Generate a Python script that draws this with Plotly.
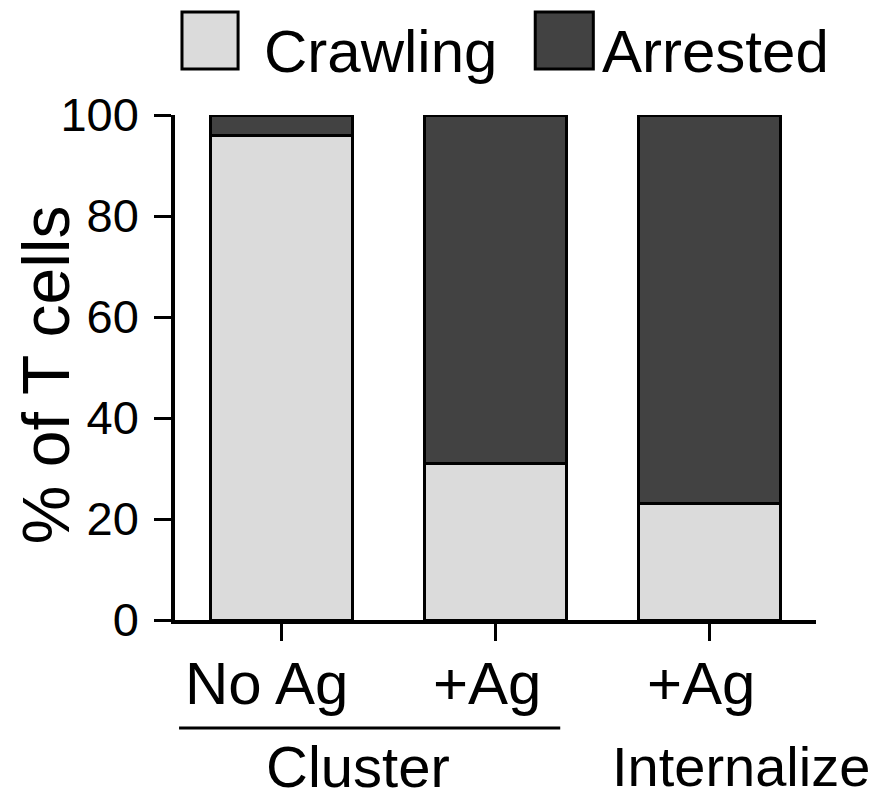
import plotly.graph_objects as go

# Percentage of T cells in each motility state per condition
conditions = ["No Ag", "+Ag", "+Ag (internalize)"]
crawling = [96, 31, 23]
arrested = [4, 69, 77]

group_labels = ["No Ag", "+Ag", "+Ag"]
y_ticks = [0, 20, 40, 60, 80, 100]

LIGHT = "#dbdbdb"
DARK = "#424242"
FONT = "Liberation Sans, Arial, sans-serif"

x_pos = list(range(len(conditions)))

fig = go.Figure()
fig.add_trace(go.Bar(
    x=x_pos, y=crawling, name="Crawling", width=0.665,
    marker=dict(color=LIGHT, line=dict(color="black", width=3)),
    showlegend=False,
))
fig.add_trace(go.Bar(
    x=x_pos, y=arrested, name="Arrested", width=0.665,
    marker=dict(color=DARK, line=dict(color="black", width=3)),
    showlegend=False,
))

fig.update_layout(
    barmode="stack",
    width=888, height=801,
    margin=dict(l=175, r=72, t=115, b=181),
    paper_bgcolor="white", plot_bgcolor="white",
    font=dict(family=FONT, color="black"),
)

fig.update_xaxes(
    range=[-0.5, 2.5],
    tickmode="array", tickvals=x_pos, showticklabels=False,
    ticks="outside", ticklen=17, tickwidth=3, tickcolor="black",
    showline=True, linewidth=3.5, linecolor="black",
    showgrid=False, zeroline=False,
)
fig.update_yaxes(
    range=[0, 100],
    tickmode="array", tickvals=y_ticks,
    ticks="outside", ticklen=17, tickwidth=3, tickcolor="black",
    tickfont=dict(size=47, family=FONT, color="black"),
    ticklabelstandoff=6,
    showline=True, linewidth=3.5, linecolor="black",
    showgrid=False, zeroline=False,
)

annotations = []

# y-axis title
annotations.append(dict(
    text="% of T cells", xref="paper", yref="paper",
    x=-0.201, y=0.485, xanchor="center", yanchor="middle",
    textangle=-90, showarrow=False,
    font=dict(size=66, family=FONT, color="black"),
))

# condition labels under each bar
shifts = [-15, -9, -8]
for xi, lab, sh in zip(x_pos, group_labels, shifts):
    annotations.append(dict(
        text=lab, xref="x", yref="paper", x=xi, y=-0.125,
        xshift=sh, xanchor="center", yanchor="middle",
        showarrow=False, font=dict(size=60, family=FONT, color="black"),
    ))

# group labels
annotations.append(dict(
    text="Cluster", xref="x", yref="paper", x=0.5, y=-0.29,
    xshift=-31, xanchor="center", yanchor="middle",
    showarrow=False, font=dict(size=58, family=FONT, color="black"),
))
annotations.append(dict(
    text="Internalize", xref="x", yref="paper", x=2, y=-0.29,
    xshift=32, xanchor="center", yanchor="middle",
    showarrow=False, font=dict(size=56, family=FONT, color="black"),
))

# legend labels
annotations.append(dict(
    text="Crawling", xref="paper", yref="paper", x=0.136, y=1.125,
    xanchor="left", yanchor="middle", showarrow=False,
    font=dict(size=60, family=FONT, color="black"),
))
annotations.append(dict(
    text="Arrested", xref="paper", yref="paper", x=0.6635, y=1.125,
    xanchor="left", yanchor="middle", showarrow=False,
    font=dict(size=60, family=FONT, color="black"),
))

shapes = [
    # bracket under the Cluster group
    dict(type="line", xref="x", yref="paper",
         x0=-0.481, x1=1.303, y0=-0.214, y1=-0.214,
         line=dict(color="black", width=3)),
    # legend swatches
    dict(type="rect", xref="paper", yref="paper",
         x0=0.0109, x1=0.0984, y0=1.091, y1=1.204,
         fillcolor=LIGHT, line=dict(color="black", width=3)),
    dict(type="rect", xref="paper", yref="paper",
         x0=0.562, x1=0.6526, y0=1.091, y1=1.204,
         fillcolor=DARK, line=dict(color="black", width=3)),
]

fig.update_layout(annotations=annotations, shapes=shapes)

fig.write_html("out.html")
